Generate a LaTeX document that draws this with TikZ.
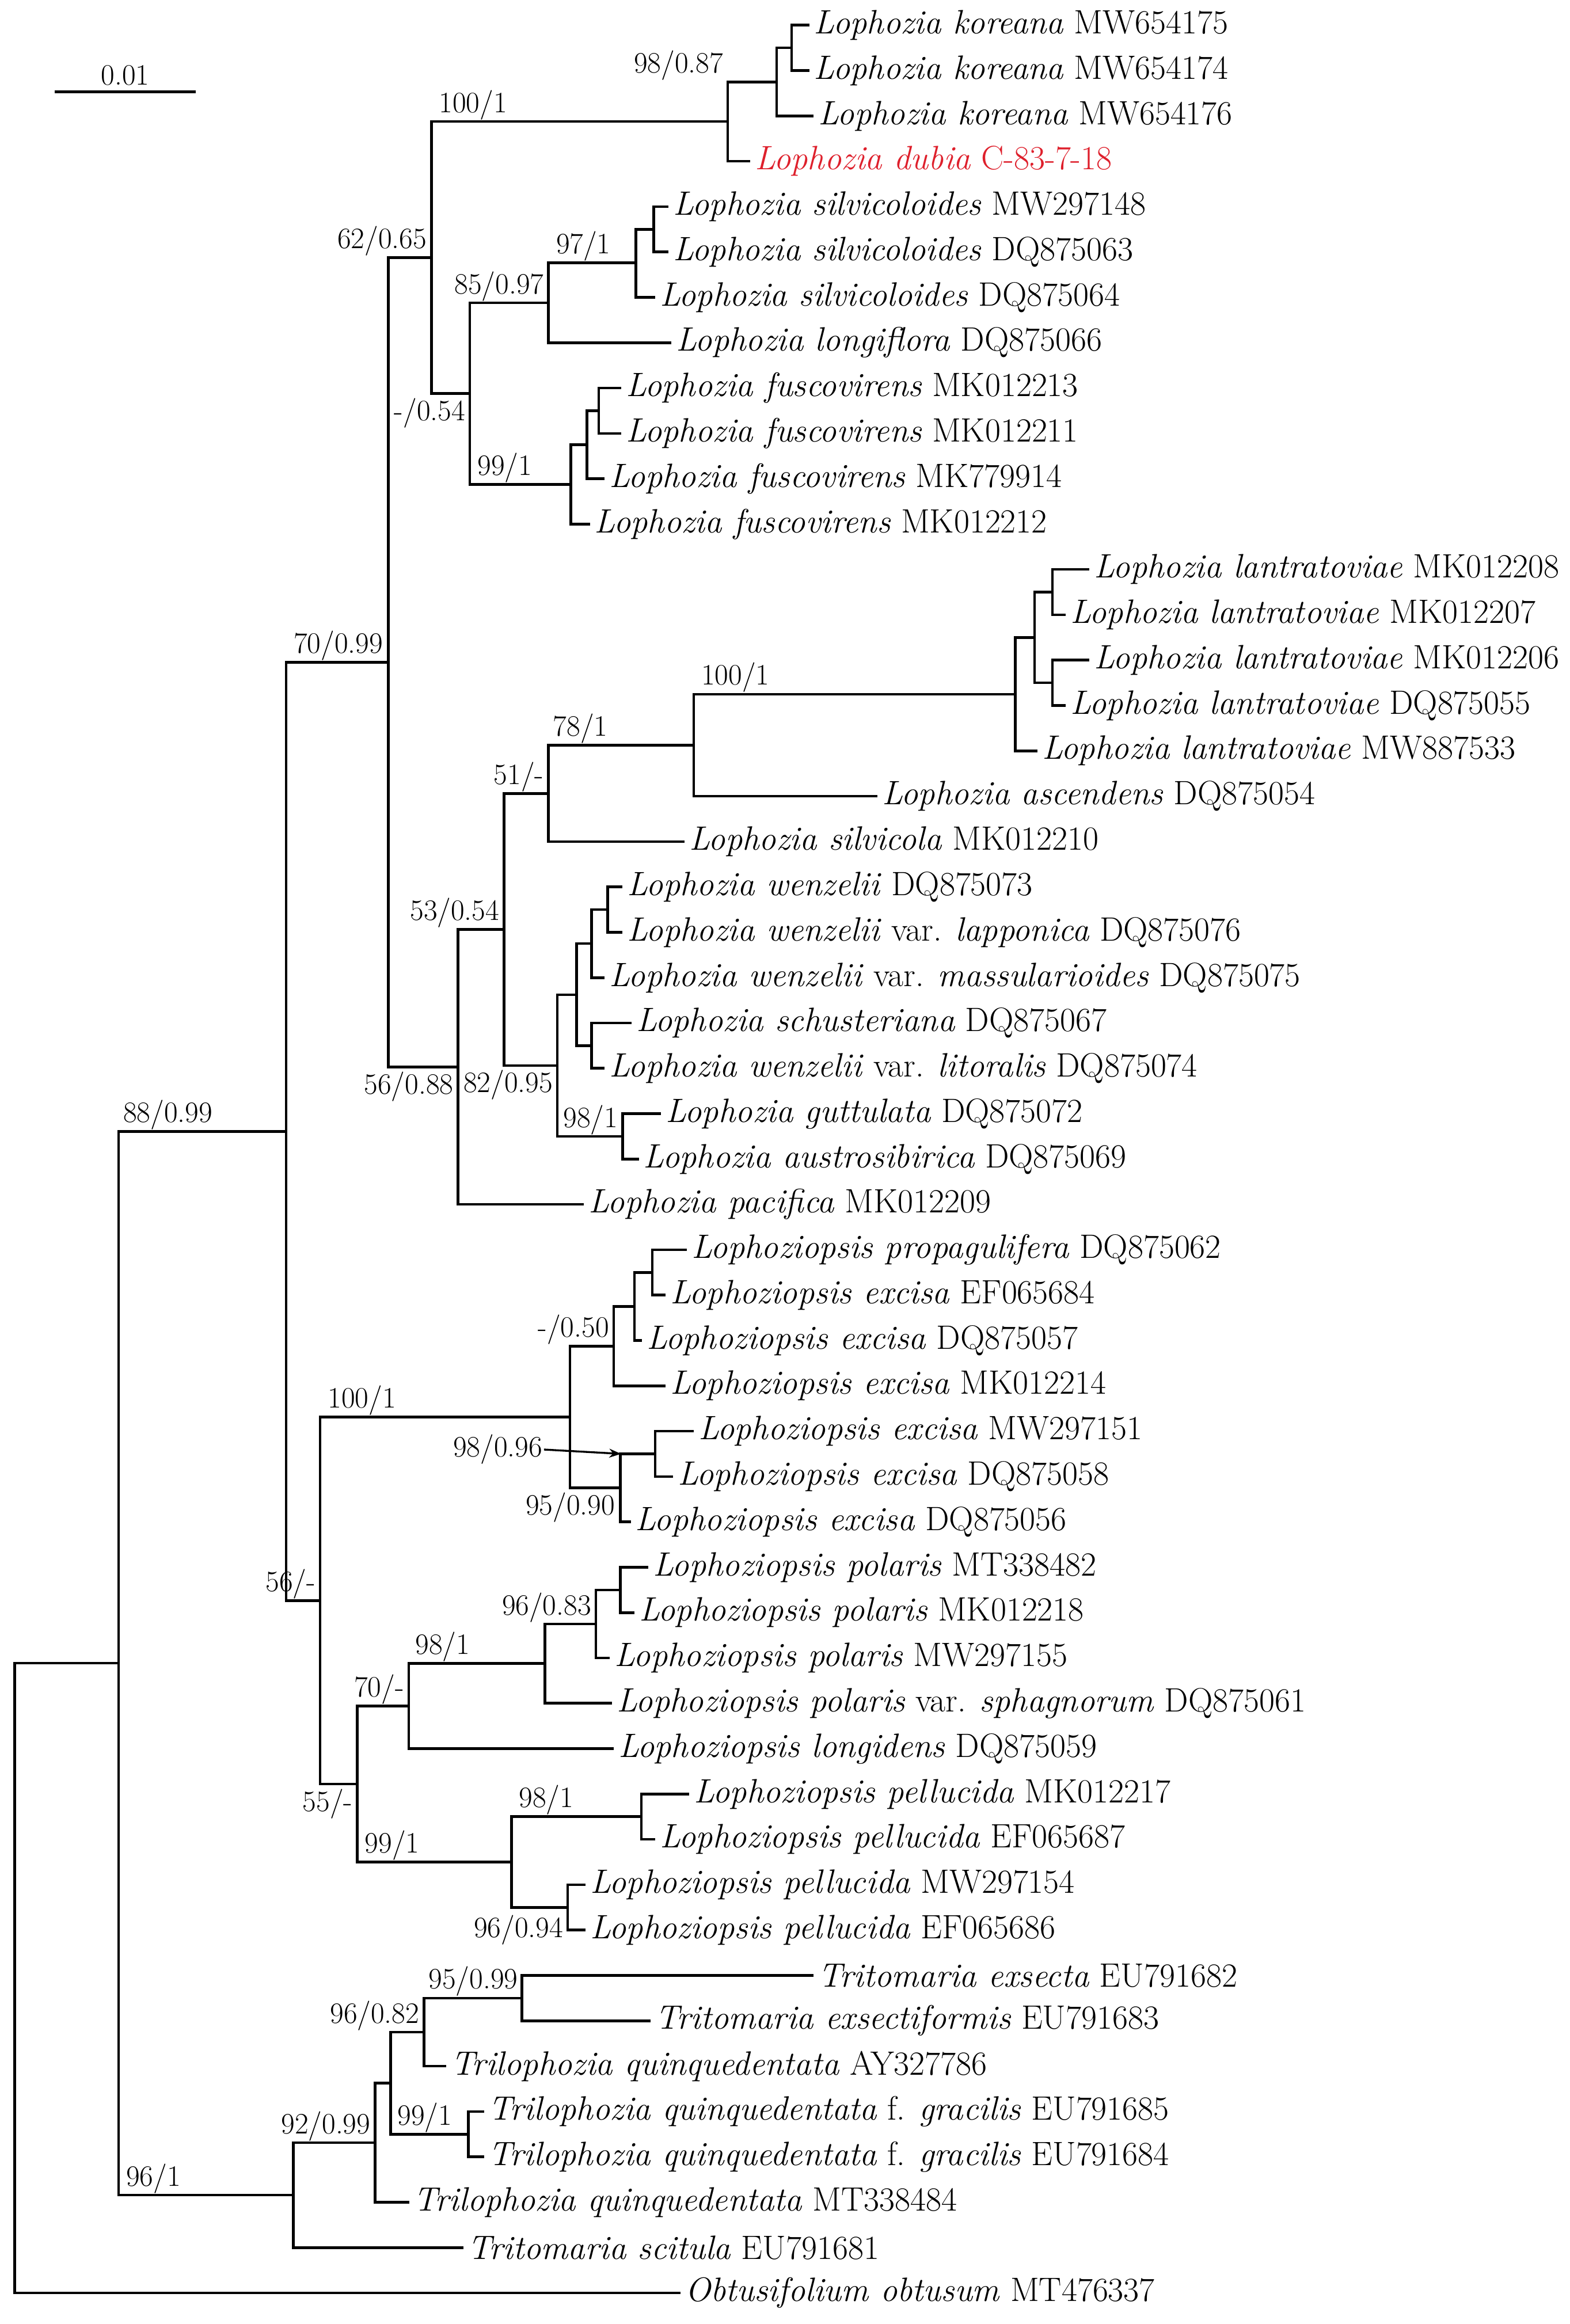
\documentclass[tikz,border=0pt]{standalone}
\usetikzlibrary{arrows.meta}
\definecolor{dred}{RGB}{222,32,44}
\begin{document}
\begin{tikzpicture}[x=1pt,y=-1pt,
  br/.style={line width=1.8pt},
  leaf/.style={anchor=west,inner sep=3pt,font=\fontsize{22.8}{26}\selectfont},
  lab/.style={inner sep=1pt,font=\fontsize{20}{23}\selectfont}]
\useasboundingbox (0,0) rectangle (1059,1568);
% leaves
\node[leaf] (L1) at (546,17.0) {\textit{Lophozia koreana} MW654175};
\node[leaf] (L2) at (546,47.6) {\textit{Lophozia koreana} MW654174};
\node[leaf] (L3) at (549,78.2) {\textit{Lophozia koreana} MW654176};
\node[leaf,text=dred] (L4) at (506,108.8) {\textit{Lophozia dubia} C-83-7-18};
\node[leaf] (L5) at (451,139.4) {\textit{Lophozia silvicoloides} MW297148};
\node[leaf] (L6) at (451,170.0) {\textit{Lophozia silvicoloides} DQ875063};
\node[leaf] (L7) at (442,200.6) {\textit{Lophozia silvicoloides} DQ875064};
\node[leaf] (L8) at (453,231.2) {\textit{Lophozia longiflora} DQ875066};
\node[leaf] (L9) at (419,261.8) {\textit{Lophozia fuscovirens} MK012213};
\node[leaf] (L10) at (419,292.4) {\textit{Lophozia fuscovirens} MK012211};
\node[leaf] (L11) at (408,323.0) {\textit{Lophozia fuscovirens} MK779914};
\node[leaf] (L12) at (398,353.6) {\textit{Lophozia fuscovirens} MK012212};
\node[leaf] (L13) at (735,384.2) {\textit{Lophozia lantratoviae} MK012208};
\node[leaf] (L14) at (719,414.8) {\textit{Lophozia lantratoviae} MK012207};
\node[leaf] (L15) at (735,445.4) {\textit{Lophozia lantratoviae} MK012206};
\node[leaf] (L16) at (719,476.0) {\textit{Lophozia lantratoviae} DQ875055};
\node[leaf] (L17) at (700,506.6) {\textit{Lophozia lantratoviae} MW887533};
\node[leaf] (L18) at (592,537.2) {\textit{Lophozia ascendens} DQ875054};
\node[leaf] (L19) at (462,567.8) {\textit{Lophozia silvicola} MK012210};
\node[leaf] (L20) at (420,598.4) {\textit{Lophozia wenzelii} DQ875073};
\node[leaf] (L21) at (420,629.0) {\textit{Lophozia wenzelii} var. \textit{lapponica} DQ875076};
\node[leaf] (L22) at (408,659.6) {\textit{Lophozia wenzelii} var. \textit{massularioides} DQ875075};
\node[leaf] (L23) at (426,690.2) {\textit{Lophozia schusteriana} DQ875067};
\node[leaf] (L24) at (408,720.8) {\textit{Lophozia wenzelii} var. \textit{litoralis} DQ875074};
\node[leaf] (L25) at (446,751.4) {\textit{Lophozia guttulata} DQ875072};
\node[leaf] (L26) at (431,782.0) {\textit{Lophozia austrosibirica} DQ875069};
\node[leaf] (L27) at (394,812.6) {\textit{Lophozia pacifica} MK012209};
\node[leaf] (L28) at (463.5,843.2) {\textit{Lophoziopsis propagulifera} DQ875062};
\node[leaf] (L29) at (449,873.8) {\textit{Lophoziopsis excisa} EF065684};
\node[leaf] (L30) at (433,904.4) {\textit{Lophoziopsis excisa} DQ875057};
\node[leaf] (L31) at (449,935.0) {\textit{Lophoziopsis excisa} MK012214};
\node[leaf] (L32) at (468,965.6) {\textit{Lophoziopsis excisa} MW297151};
\node[leaf] (L33) at (454,996.2) {\textit{Lophoziopsis excisa} DQ875058};
\node[leaf] (L34) at (425.5,1026.8) {\textit{Lophoziopsis excisa} DQ875056};
\node[leaf] (L35) at (437.5,1057.4) {\textit{Lophoziopsis polaris} MT338482};
\node[leaf] (L36) at (428,1088.0) {\textit{Lophoziopsis polaris} MK012218};
\node[leaf] (L37) at (411.5,1118.6) {\textit{Lophoziopsis polaris} MW297155};
\node[leaf] (L38) at (413,1149.2) {\textit{Lophoziopsis polaris} var. \textit{sphagnorum} DQ875061};
\node[leaf] (L39) at (414,1179.8) {\textit{Lophoziopsis longidens} DQ875059};
\node[leaf] (L40) at (465,1210.4) {\textit{Lophoziopsis pellucida} MK012217};
\node[leaf] (L41) at (442,1241.0) {\textit{Lophoziopsis pellucida} EF065687};
\node[leaf] (L42) at (395,1271.6) {\textit{Lophoziopsis pellucida} MW297154};
\node[leaf] (L43) at (395,1302.2) {\textit{Lophoziopsis pellucida} EF065686};
\node[leaf] (L44) at (549,1332.8) {\textit{Tritomaria exsecta} EU791682};
\node[leaf] (L45) at (439,1363.4) {\textit{Tritomaria exsectiformis} EU791683};
\node[leaf] (L46) at (301,1394.0) {\textit{Trilophozia quinquedentata} AY327786};
\node[leaf] (L47) at (326.5,1424.6) {\textit{Trilophozia quinquedentata} f. \textit{gracilis} EU791685};
\node[leaf] (L48) at (326.5,1455.2) {\textit{Trilophozia quinquedentata} f. \textit{gracilis} EU791684};
\node[leaf] (L49) at (276,1485.8) {\textit{Trilophozia quinquedentata} MT338484};
\node[leaf] (L50) at (312.5,1516.4) {\textit{Tritomaria scitula} EU791681};
\node[leaf] (L51) at (459,1547.0) {\textit{Obtusifolium obtusum} MT476337};
% internal nodes
\coordinate (k12) at (534,32.3);
\coordinate (k3) at (524,55.25);
\coordinate (A) at (491,82.0);
\coordinate (s56) at (441,154.7);
\coordinate (s97) at (429,177.35);
\coordinate (s85) at (370,204.3);
\coordinate (f910) at (404,277.1);
\coordinate (f911) at (396,300.05);
\coordinate (f99) at (385,326.8);
\coordinate (n054) at (317,265.5);
\coordinate (n62) at (291,173.8);
\coordinate (l1314) at (710,399.5);
\coordinate (l1516) at (710,460.7);
\coordinate (l1316) at (698,430.1);
\coordinate (l100) at (685,468.35);
\coordinate (n78) at (468,502.8);
\coordinate (n51) at (370,535.3);
\coordinate (w2021) at (410,613.7);
\coordinate (w2022) at (399,636.65);
\coordinate (w2324) at (399,705.5);
\coordinate (w2024) at (389,671.1);
\coordinate (g98) at (420,766.7);
\coordinate (n82) at (376,718.9);
\coordinate (n53) at (340,627.1);
\coordinate (n56) at (309,719.85);
\coordinate (n70) at (262,446.8);
\coordinate (e2829) at (440,858.5);
\coordinate (e2830) at (428,881.45);
\coordinate (e050) at (414,908.2);
\coordinate (e3233) at (442,980.9);
\coordinate (e95) at (418.5,1003.85);
\coordinate (e100) at (384.5,956.0);
\coordinate (p3536) at (418.5,1072.7);
\coordinate (p96) at (402,1095.65);
\coordinate (p98) at (367.5,1122.4);
\coordinate (p70) at (275.7,1151.1);
\coordinate (pl98) at (432.7,1225.7);
\coordinate (pl96) at (383,1286.9);
\coordinate (pl99) at (345,1256.3);
\coordinate (p55) at (241,1203.7);
\coordinate (p56) at (216,1079.85);
\coordinate (X88) at (193,763.3);
\coordinate (t95) at (352,1348.1);
\coordinate (t96) at (286,1371.05);
\coordinate (t99) at (316,1439.9);
\coordinate (t9x) at (263.5,1405.5);
\coordinate (t92a) at (253,1445.65);
\coordinate (t92) at (198,1481.0);
\coordinate (M) at (80,1122.15);
\coordinate (root) at (10,1334.6);
% branches
\begin{scope}[br]
\draw (k12) |- (L1.west); \draw (k12) |- (L2.west);
\draw (k3) |- (k12); \draw (k3) |- (L3.west);
\draw (A) |- (k3); \draw (A) |- (L4.west);
\draw (s56) |- (L5.west); \draw (s56) |- (L6.west);
\draw (s97) |- (s56); \draw (s97) |- (L7.west);
\draw (s85) |- (s97); \draw (s85) |- (L8.west);
\draw (f910) |- (L9.west); \draw (f910) |- (L10.west);
\draw (f911) |- (f910); \draw (f911) |- (L11.west);
\draw (f99) |- (f911); \draw (f99) |- (L12.west);
\draw (n054) |- (s85); \draw (n054) |- (f99);
\draw (n62) |- (A); \draw (n62) |- (n054);
\draw (l1314) |- (L13.west); \draw (l1314) |- (L14.west);
\draw (l1516) |- (L15.west); \draw (l1516) |- (L16.west);
\draw (l1316) |- (l1314); \draw (l1316) |- (l1516);
\draw (l100) |- (l1316); \draw (l100) |- (L17.west);
\draw (n78) |- (l100); \draw (n78) |- (L18.west);
\draw (n51) |- (n78); \draw (n51) |- (L19.west);
\draw (w2021) |- (L20.west); \draw (w2021) |- (L21.west);
\draw (w2022) |- (w2021); \draw (w2022) |- (L22.west);
\draw (w2324) |- (L23.west); \draw (w2324) |- (L24.west);
\draw (w2024) |- (w2022); \draw (w2024) |- (w2324);
\draw (g98) |- (L25.west); \draw (g98) |- (L26.west);
\draw (n82) |- (w2024); \draw (n82) |- (g98);
\draw (n53) |- (n51); \draw (n53) |- (n82);
\draw (n56) |- (n53); \draw (n56) |- (L27.west);
\draw (n70) |- (n62); \draw (n70) |- (n56);
\draw (e2829) |- (L28.west); \draw (e2829) |- (L29.west);
\draw (e2830) |- (e2829); \draw (e2830) |- (L30.west);
\draw (e050) |- (e2830); \draw (e050) |- (L31.west);
\draw (e3233) |- (L32.west); \draw (e3233) |- (L33.west);
\draw (e95) |- (e3233); \draw (e95) |- (L34.west);
\draw (e100) |- (e050); \draw (e100) |- (e95);
\draw (p3536) |- (L35.west); \draw (p3536) |- (L36.west);
\draw (p96) |- (p3536); \draw (p96) |- (L37.west);
\draw (p98) |- (p96); \draw (p98) |- (L38.west);
\draw (p70) |- (p98); \draw (p70) |- (L39.west);
\draw (pl98) |- (L40.west); \draw (pl98) |- (L41.west);
\draw (pl96) |- (L42.west); \draw (pl96) |- (L43.west);
\draw (pl99) |- (pl98); \draw (pl99) |- (pl96);
\draw (p55) |- (p70); \draw (p55) |- (pl99);
\draw (p56) |- (e100); \draw (p56) |- (p55);
\draw (X88) |- (n70); \draw (X88) |- (p56);
\draw (t95) |- (L44.west); \draw (t95) |- (L45.west);
\draw (t96) |- (t95); \draw (t96) |- (L46.west);
\draw (t99) |- (L47.west); \draw (t99) |- (L48.west);
\draw (t9x) |- (t96); \draw (t9x) |- (t99);
\draw (t92a) |- (t9x); \draw (t92a) |- (L49.west);
\draw (t92) |- (t92a); \draw (t92) |- (L50.west);
\draw (M) |- (X88); \draw (M) |- (t92);
\draw (root) |- (M); \draw (root) |- (L51.west);
\end{scope}
% support labels
\node[lab,anchor=south west] (b1) at (295,82) {100/1};
\node[lab,anchor=south east] (b2) at (489,55.25) {98/0.87};
\node[lab,anchor=south east] (b3) at (289,173.8) {62/0.65};
\node[lab,anchor=south west] (b4) at (374,177.35) {97/1};
\node[lab,anchor=south east] (b5) at (368,204.3) {85/0.97};
\node[lab,anchor=north east] (b6) at (315,267.5) {-/0.54};
\node[lab,anchor=south west] (b7) at (321,326.8) {99/1};
\node[lab,anchor=south west] (b8) at (197,446.8) {70/0.99};
\node[lab,anchor=south west] (b9) at (472,468.35) {100/1};
\node[lab,anchor=south west] (b10) at (372,502.8) {78/1};
\node[lab,anchor=south east] (b11) at (368,535.3) {51/-};
\node[lab,anchor=south east] (b12) at (338,627.1) {53/0.54};
\node[lab,anchor=north east] (b13) at (307,722) {56/0.88};
\node[lab,anchor=north east] (b14) at (374,721) {82/0.95};
\node[lab,anchor=south east] (b15) at (418,766.7) {98/1};
\node[lab,anchor=south west] (b16) at (82,763.3) {88/0.99};
\node[lab,anchor=south east] (b17) at (412,908.2) {-/0.50};
\node[lab,anchor=south west] (b18) at (220,956) {100/1};
\node[lab,anchor=east] (b19) at (367,978) {98/0.96};
\node[lab,anchor=north east] (b20) at (416,1006) {95/0.90};
\node[lab,anchor=south east] (b21) at (400,1095.65) {96/0.83};
\node[lab,anchor=south west] (b22) at (279,1122.4) {98/1};
\node[lab,anchor=south east] (b23) at (273.7,1151.1) {70/-};
\node[lab,anchor=south east] (b24) at (214,1079.85) {56/-};
\node[lab,anchor=north east] (b25) at (239,1206) {55/-};
\node[lab,anchor=south west] (b26) at (245,1256.3) {99/1};
\node[lab,anchor=south west] (b27) at (349,1225.7) {98/1};
\node[lab,anchor=east] (b28) at (381,1302) {96/0.94};
\node[lab,anchor=south west] (b29) at (288,1348.1) {95/0.99};
\node[lab,anchor=south east] (b30) at (284,1371.05) {96/0.82};
\node[lab,anchor=south west] (b31) at (267,1439.9) {99/1};
\node[lab,anchor=south east] (b32) at (251,1445.65) {92/0.99};
\node[lab,anchor=south west] (b33) at (84,1481) {96/1};
\coordinate (arrtip) at (419,980.9);
\draw[line width=1.3pt,-{Stealth[length=8pt]}] (b19.east) -- (arrtip);
% scale bar
\coordinate (sb1) at (37,62); \coordinate (sb2) at (132,62);
\draw[line width=1.8pt] (sb1) -- (sb2);
\node[lab,anchor=south] (sbl) at (84.5,59) {0.01};
\end{tikzpicture}
\end{document}
